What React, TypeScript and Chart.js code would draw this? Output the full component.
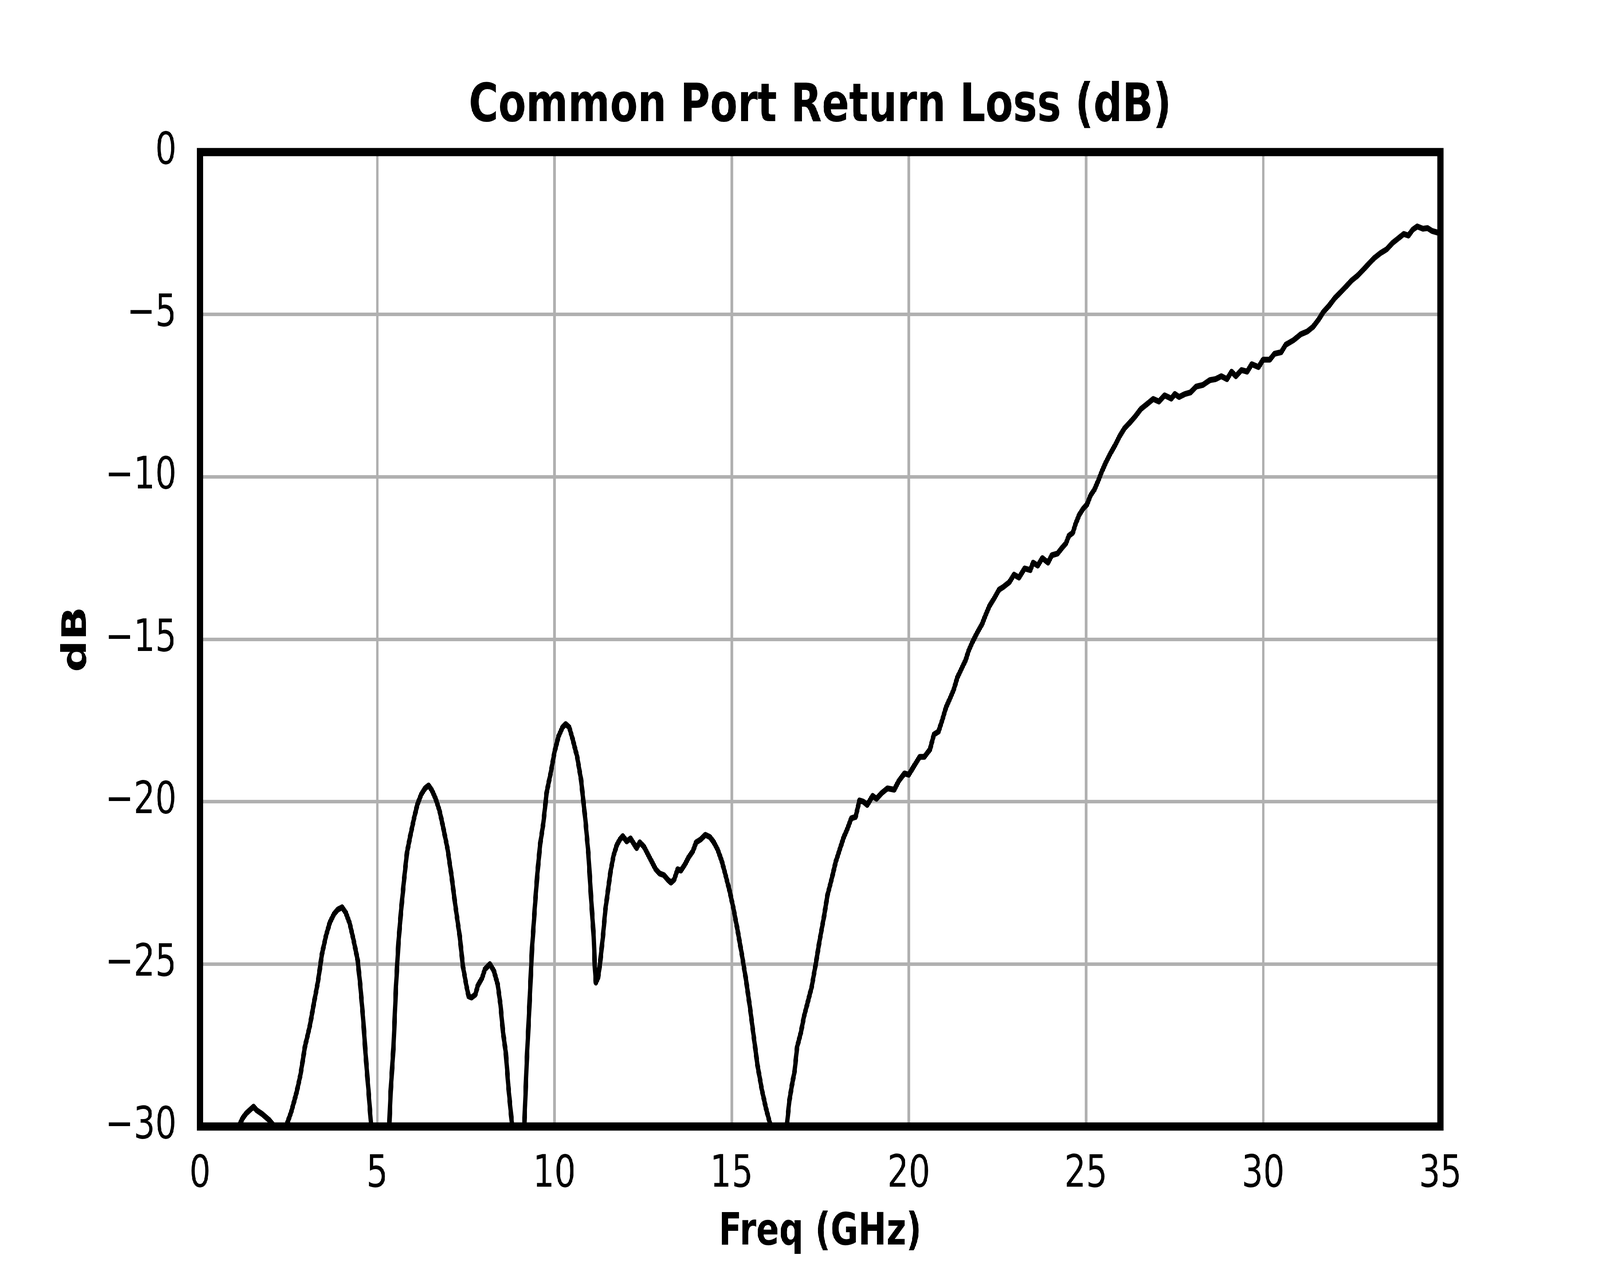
import React, { useRef, useEffect, useState } from 'react';
import { Chart, registerables } from 'chart.js';

Chart.register(...registerables);

// значения (GHz / dB)
const freqGHz = [
  0.0, 0.4, 0.8, 1.0, 1.09, 1.2, 1.3, 1.4, 1.51, 1.6, 1.76, 1.95, 2.06, 2.15, 2.3, 2.43,
  2.58, 2.73, 2.84, 2.96, 3.1, 3.22, 3.33, 3.44, 3.55, 3.66, 3.78, 3.89, 4.01, 4.11, 4.22,
  4.33, 4.45, 4.52, 4.6, 4.67, 4.75, 4.82, 4.95, 5.1, 5.25, 5.34, 5.38, 5.46, 5.53, 5.6,
  5.67, 5.75, 5.84, 5.94, 6.04, 6.13, 6.24, 6.35, 6.45, 6.54, 6.65, 6.76, 6.87, 6.99, 7.1,
  7.21, 7.33, 7.42, 7.51, 7.58, 7.66, 7.77, 7.84, 7.96, 8.04, 8.18, 8.29, 8.4, 8.48, 8.55,
  8.63, 8.7, 8.78, 8.81, 8.9, 9.0, 9.1, 9.15, 9.22, 9.3, 9.37, 9.45, 9.52, 9.6, 9.69,
  9.78, 9.9, 10.01, 10.12, 10.23, 10.32, 10.42, 10.51, 10.64, 10.75, 10.87, 10.96, 11.03,
  11.11, 11.14, 11.17, 11.23, 11.29, 11.37, 11.44, 11.52, 11.59, 11.67, 11.76, 11.85,
  11.93, 12.04, 12.15, 12.24, 12.32, 12.41, 12.53, 12.64, 12.75, 12.86, 12.97, 13.09,
  13.2, 13.29, 13.38, 13.48, 13.57, 13.68, 13.79, 13.91, 14.0, 14.13, 14.26, 14.39, 14.5,
  14.61, 14.73, 14.84, 14.95, 15.06, 15.17, 15.29, 15.4, 15.51, 15.62, 15.73, 15.85,
  15.96, 16.07, 16.11, 16.25, 16.35, 16.48, 16.56, 16.63, 16.7, 16.78, 16.85, 16.96,
  17.04, 17.15, 17.26, 17.38, 17.49, 17.6, 17.71, 17.82, 17.94, 18.05, 18.16, 18.27,
  18.38, 18.5, 18.61, 18.72, 18.83, 18.98, 19.09, 19.24, 19.4, 19.59, 19.72, 19.88, 20.0,
  20.15, 20.31, 20.44, 20.6, 20.71, 20.84, 20.95, 21.05, 21.16, 21.27, 21.37, 21.51,
  21.61, 21.69, 21.8, 21.93, 22.07, 22.17, 22.28, 22.41, 22.55, 22.68, 22.84, 22.97,
  23.11, 23.27, 23.43, 23.51, 23.64, 23.77, 23.93, 24.04, 24.2, 24.33, 24.44, 24.52,
  24.63, 24.71, 24.81, 24.92, 25.03, 25.13, 25.24, 25.35, 25.45, 25.56, 25.69, 25.83,
  25.96, 26.09, 26.23, 26.39, 26.55, 26.71, 26.9, 27.06, 27.22, 27.41, 27.51, 27.63,
  27.79, 27.95, 28.11, 28.3, 28.5, 28.66, 28.82, 28.98, 29.11, 29.23, 29.39, 29.55,
  29.68, 29.87, 30.0, 30.19, 30.32, 30.51, 30.64, 30.86, 31.06, 31.25, 31.41, 31.57,
  31.7, 31.86, 32.02, 32.18, 32.34, 32.5, 32.66, 32.82, 32.98, 33.14, 33.3, 33.49,
  33.65, 33.81, 33.97, 34.1, 34.22, 34.35, 34.51, 34.64, 34.77, 34.93, 35.0
];

const lossDb = [
  -34.0, -32.5, -31.0, -30.3, -30.0, -29.75, -29.6, -29.5, -29.39, -29.5, -29.62, -29.8,
  -29.94, -30.3, -30.4, -30.0, -29.53, -28.93, -28.38, -27.55, -26.9, -26.17, -25.53,
  -24.7, -24.15, -23.73, -23.46, -23.32, -23.25, -23.41, -23.73, -24.24, -24.88, -25.62,
  -26.63, -27.73, -28.84, -29.85, -32.5, -38.0, -32.0, -30.0, -28.93, -27.55, -25.71,
  -24.33, -23.41, -22.49, -21.57, -21.02, -20.51, -20.1, -19.78, -19.59, -19.5, -19.64,
  -19.91, -20.28, -20.83, -21.48, -22.3, -23.23, -24.15, -25.07, -25.62, -25.99, -26.03,
  -25.94, -25.66, -25.43, -25.16, -25.0, -25.2, -25.62, -26.26, -27.09, -27.73, -28.75,
  -29.67, -30.0, -32.0, -36.0, -31.5, -30.0, -28.01, -26.17, -24.51, -23.23, -22.21,
  -21.3, -20.65, -19.73, -19.09, -18.44, -17.98, -17.71, -17.61, -17.71, -18.05, -18.6,
  -19.3, -20.5, -21.6, -22.86, -24.15, -25.07, -25.57, -25.43, -24.97, -24.15, -23.32,
  -22.67, -22.12, -21.66, -21.34, -21.16, -21.06, -21.22, -21.13, -21.29, -21.43, -21.25,
  -21.39, -21.62, -21.85, -22.08, -22.21, -22.26, -22.4, -22.49, -22.4, -22.08, -22.12,
  -21.94, -21.71, -21.52, -21.25, -21.16, -21.02, -21.09, -21.25, -21.48, -21.85, -22.3,
  -22.77, -23.32, -23.96, -24.7, -25.43, -26.26, -27.18, -28.1, -28.84, -29.39, -29.85,
  -30.0, -31.0, -32.0, -30.8, -30.0, -29.21, -28.75, -28.29, -27.55, -27.09, -26.63,
  -26.17, -25.71, -24.97, -24.24, -23.59, -22.86, -22.4, -21.85, -21.48, -21.11, -20.83,
  -20.51, -20.47, -19.96, -20.0, -20.1, -19.82, -19.91, -19.73, -19.59, -19.63, -19.36,
  -19.13, -19.17, -18.9, -18.62, -18.62, -18.39, -17.93, -17.84, -17.47, -17.1, -16.83,
  -16.55, -16.18, -15.86, -15.63, -15.35, -15.08, -14.8, -14.53, -14.25, -13.97, -13.74,
  -13.47, -13.38, -13.24, -13.01, -13.1, -12.82, -12.87, -12.64, -12.73, -12.5, -12.64,
  -12.41, -12.36, -12.18, -12.04, -11.81, -11.72, -11.44, -11.17, -10.98, -10.85, -10.57,
  -10.39, -10.11, -9.83, -9.56, -9.28, -9.01, -8.73, -8.5, -8.34, -8.14, -7.91, -7.77,
  -7.6, -7.68, -7.49, -7.59, -7.45, -7.54, -7.45, -7.4, -7.22, -7.17, -7.02, -6.99, -6.9,
  -6.99, -6.76, -6.9, -6.71, -6.76, -6.53, -6.62, -6.39, -6.39, -6.21, -6.16, -5.93,
  -5.79, -5.61, -5.52, -5.38, -5.15, -4.92, -4.73, -4.5, -4.32, -4.14, -3.95, -3.81,
  -3.63, -3.44, -3.26, -3.12, -2.99, -2.8, -2.66, -2.52, -2.57, -2.39, -2.29, -2.36,
  -2.34, -2.43, -2.48, -2.52
];

const xTicks = [0, 5, 10, 15, 20, 25, 30, 35];
const yTicks = [-30, -25, -20, -15, -10, -5, 0];

const FONT = 'DejaVu Sans';
const W = 5400;
const H = 3240;

// рамка вокруг области графика (как spines в matplotlib)
const framePlugin = {
  id: 'frame',
  afterDraw(chart: Chart) {
    const { ctx, chartArea } = chart;
    ctx.save();
    ctx.strokeStyle = '#000000';
    ctx.lineWidth = 21;
    ctx.lineJoin = 'miter';
    ctx.strokeRect(
      chartArea.left,
      chartArea.top,
      chartArea.right - chartArea.left,
      chartArea.bottom - chartArea.top
    );
    ctx.restore();
  }
};

const ReturnLossChart: React.FC = () => {
  const chartRef = useRef<HTMLCanvasElement>(null);
  const chartInstance = useRef<Chart | null>(null);

  useEffect(() => {
    if (!chartRef.current) return;
    if (chartInstance.current) {
      chartInstance.current.destroy();
    }
    const ctx = chartRef.current.getContext('2d');
    if (!ctx) return;

    const points = freqGHz.map((f, i) => ({ x: f, y: lossDb[i] }));

    chartInstance.current = new Chart(ctx, {
      type: 'line',
      data: {
        datasets: [
          {
            label: 'Return Loss',
            data: points,
            borderColor: '#000000',
            borderWidth: 15,
            borderJoinStyle: 'round',
            pointRadius: 0,
            tension: 0,
            fill: false,
            clip: 0
          }
        ]
      },
      plugins: [framePlugin],
      options: {
        responsive: true,
        maintainAspectRatio: false,
        animation: false,
        devicePixelRatio: 1,
        color: '#000000',
        layout: {
          padding: { left: 0, right: 539, top: 0, bottom: 0 }
        },
        plugins: {
          legend: { display: false },
          tooltip: { enabled: false },
          title: {
            display: true,
            text: 'Common Port Return Loss (dB)',
            color: '#000000',
            fullSize: false,
            font: { family: FONT, size: 136, weight: 'bold', lineHeight: 1.2 },
            padding: { top: 193, bottom: 33 }
          }
        },
        scales: {
          x: {
            type: 'linear',
            min: 0,
            max: 35,
            afterBuildTicks: (scale: any) => {
              scale.ticks = xTicks.map(v => ({ value: v }));
            },
            afterFit: (scale: any) => {
              scale.height = 357;
            },
            grid: { color: '#b0b0b0', lineWidth: 9, drawTicks: false },
            border: { display: false },
            ticks: {
              color: '#000000',
              font: { family: FONT, size: 114 },
              padding: 56,
              maxRotation: 0,
              autoSkip: false
            },
            title: {
              display: true,
              text: 'Freq (GHz)',
              color: '#000000',
              font: { family: FONT, size: 114, weight: 'bold', lineHeight: 1.2 },
              padding: { top: 0, bottom: 16 }
            }
          },
          y: {
            type: 'linear',
            min: -30,
            max: 0,
            afterBuildTicks: (scale: any) => {
              scale.ticks = yTicks.map(v => ({ value: v }));
            },
            afterFit: (scale: any) => {
              scale.width = 675;
            },
            grid: { color: '#b0b0b0', lineWidth: 9, drawTicks: false },
            border: { display: false },
            ticks: {
              color: '#000000',
              font: { family: FONT, size: 114 },
              padding: 79,
              autoSkip: false,
              callback: (value: any) => {
                const v = Number(value);
                return v < 0 ? '\u2212' + Math.abs(v) : String(v);
              }
            },
            title: {
              display: true,
              text: 'dB',
              color: '#000000',
              font: { family: FONT, size: 114, weight: 'bold', lineHeight: 1.2 },
              padding: { top: 192, bottom: 0 }
            }
          }
        }
      }
    });

    return () => {
      if (chartInstance.current) {
        chartInstance.current.destroy();
        chartInstance.current = null;
      }
    };
  }, []);

  return (
    <div style={{ position: 'relative', width: `${W}px`, height: `${H}px`, background: '#ffffff' }}>
      <canvas ref={chartRef} />
    </div>
  );
};

export default function App() {
  // окно браузера уже, чем 5400px — вписываем картинку 5400x3240 в окно целиком
  const [scale, setScale] = useState({ x: 1, y: 1 });
  useEffect(() => {
    setScale({ x: window.innerWidth / W, y: window.innerHeight / H });
  }, []);

  return (
    <div style={{
      position: 'fixed',
      left: 0,
      top: 0,
      width: `${W}px`,
      height: `${H}px`,
      transformOrigin: '0 0',
      transform: `scale(${scale.x}, ${scale.y})`,
      background: '#ffffff'
    }}>
      <ReturnLossChart />
    </div>
  );
}
